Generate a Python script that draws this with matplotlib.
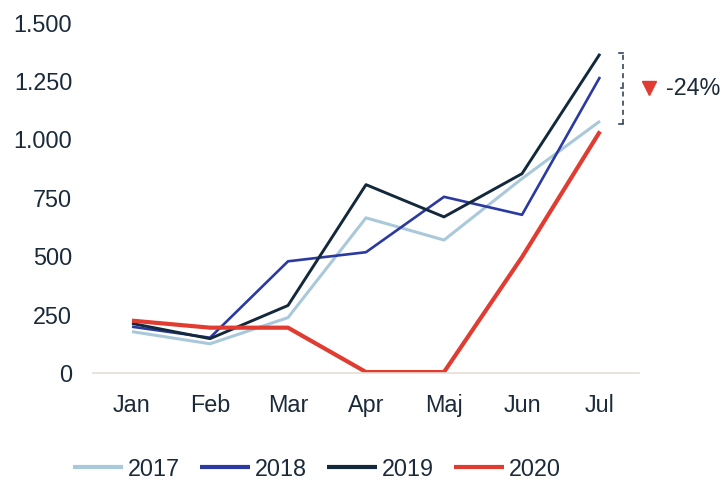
import matplotlib
matplotlib.use("Agg")
import matplotlib.pyplot as plt
from matplotlib.ticker import FuncFormatter

plt.rcParams['font.family'] = ['Liberation Sans', 'DejaVu Sans']

months = ["Jan", "Feb", "Mar", "Apr", "Maj", "Jun", "Jul"]
y2017 = [177, 125, 237, 664, 569, 832, 1078]
y2018 = [198, 151, 478, 517, 754, 677, 1267]
y2019 = [212, 147, 289, 806, 668, 853, 1366]
y2020 = [224, 194, 194, 4, 4, 496, 1034]
change_label = "-24%"
yticks = [0, 250, 500, 750, 1000, 1250, 1500]

TXT = "#1b2a3a"
FS = 16.8
series = [
    ("2017", y2017, "#a9c9da", 2.2),
    ("2018", y2018, "#2a3aa0", 1.9),
    ("2019", y2019, "#13283a", 2.1),
    ("2020", y2020, "#e03c31", 3.0),
]

fig = plt.figure(figsize=(7.25, 4.79), dpi=100)
ax = fig.add_axes([93/725, 1 - 373/479, 546/725, 350.5/479])

x = list(range(len(months)))
for name, vals, col, lw in series:
    ax.plot(x, vals, color=col, lw=lw, label=name, solid_capstyle='butt')

ax.set_xlim(-0.5, 6.5)
ax.set_ylim(0, 1500)
ax.set_xticks(x)
ax.set_xticklabels(months)
ax.set_yticks(yticks)
ax.yaxis.set_major_formatter(FuncFormatter(lambda v, p: f"{int(v):,}".replace(",", ".")))
ax.tick_params(length=0, labelsize=FS, colors=TXT)
ax.tick_params(axis='x', pad=15)
ax.tick_params(axis='y', pad=15)
for s in ["top", "right", "left"]:
    ax.spines[s].set_visible(False)
ax.spines["bottom"].set_color("#e4dfd5")
ax.spines["bottom"].set_linewidth(1.2)

# bracket showing drop between 2019 and 2020 in July
top, bot = y2019[-1] + 5, 1065
bx = 6.295
ax.plot([bx, bx], [bot, top], color="#34475a", lw=1.2, ls=(0, (3, 2.5)), clip_on=False)
ax.plot([bx - 0.05, bx], [top, top], color="#34475a", lw=1.2, clip_on=False)
ax.plot([bx - 0.05, bx], [bot, bot], color="#34475a", lw=1.2, clip_on=False)
mid = (top + bot) / 2
ax.plot([bx - 0.03, bx], [mid, mid], color="#34475a", lw=1.2, clip_on=False)
ax.plot([6.63], [mid], marker="v", ms=10, color="#e03c31", clip_on=False)
ax.text(6.84, mid, change_label, fontsize=FS, color=TXT, va="center", ha="left")

leg = fig.legend(loc="center left", bbox_to_anchor=(73/725, 1 - 469/479), ncol=4,
                 frameon=False, fontsize=FS, handlelength=2.15, handletextpad=0.2,
                 columnspacing=0.86, borderpad=0, borderaxespad=0)
for t in leg.get_texts():
    t.set_color(TXT)
for h in leg.get_lines():
    h.set_linewidth(3)

fig.savefig("out.png", dpi=100)
